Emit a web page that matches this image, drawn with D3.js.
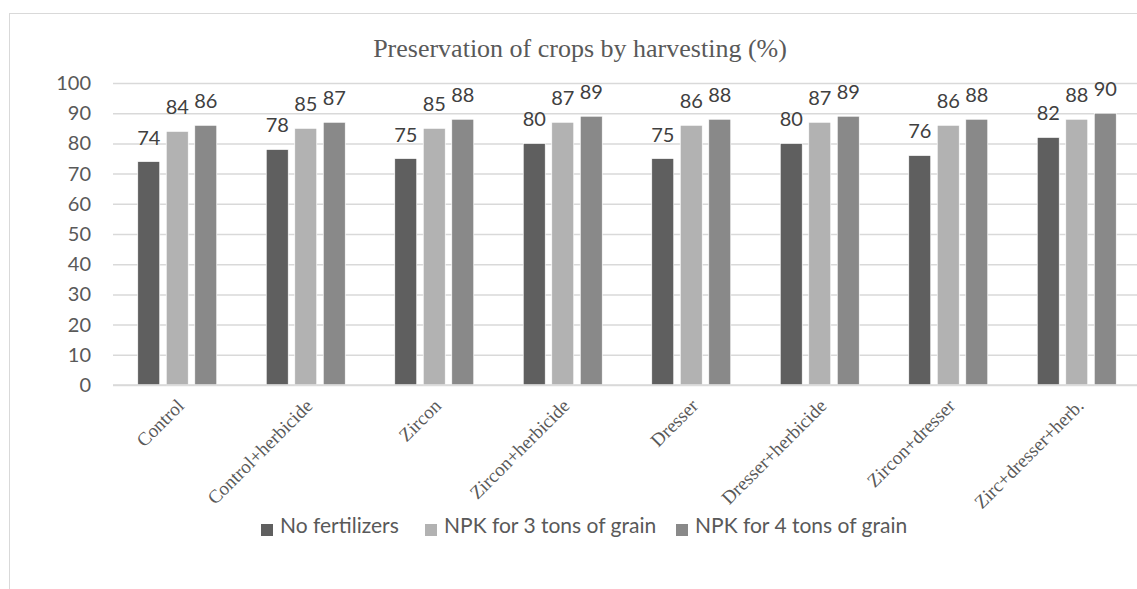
<!DOCTYPE html>
<html>
<head>
<meta charset="utf-8">
<script src="https://cdn.jsdelivr.net/npm/d3@7"></script>
<style>
  body { margin: 0; background: #fff; }
  svg { display: block; }
</style>
</head>
<body>
<figure id="bar" style="margin:0"></figure>
<script>
const categories = ['Control', 'Control+herbicide', 'Zircon', 'Zircon+herbicide',
  'Dresser', 'Dresser+herbicide', 'Zircon+dresser', 'Zirc+dresser+herb.'];
const seriesNames = ['No fertilizers', 'NPK for 3 tons of grain', 'NPK for 4 tons of grain'];
const noFertilizers = [74, 78, 75, 80, 75, 80, 76, 82];
const npk3 = [84, 85, 85, 87, 86, 87, 86, 88];
const npk4 = [86, 87, 88, 89, 88, 89, 88, 90];
const yTicks = [0, 10, 20, 30, 40, 50, 60, 70, 80, 90, 100];
const colors = ['#5f5f5f', '#b2b2b2', '#898989'];

const width = 1137, height = 589;
const plotLeft = 113, plotRight = 1141, plotTop = 83, plotBottom = 385;
const sans = 'Lato, sans-serif';
const serif = '"Liberation Serif", serif';

const svg = d3.select('figure#bar')
  .append('svg')
  .attr('width', width)
  .attr('height', height);

// chart frame
svg.append('rect')
  .attr('x', 9.5).attr('y', 13.5)
  .attr('width', 1200).attr('height', 700)
  .attr('fill', 'none')
  .attr('stroke', '#d9d9d9')
  .attr('stroke-width', 1);

svg.append('text')
  .attr('x', 580).attr('y', 57)
  .attr('text-anchor', 'middle')
  .style('font-family', serif)
  .style('font-size', '26px')
  .attr('fill', '#595959')
  .text('Preservation of crops by harvesting (%)');

const y = d3.scaleLinear().domain([0, 100]).range([plotBottom, plotTop]);

const x0 = d3.scaleBand()
  .domain(categories)
  .range([plotLeft, plotRight])
  .paddingInner(0.385)
  .paddingOuter(0.1925);

const x1 = d3.scaleBand()
  .domain(seriesNames)
  .range([0, x0.bandwidth()])
  .paddingInner(0.228);

// gridlines + y labels
const yAxis = svg.append('g')
  .attr('transform', 'translate(' + plotLeft + ',0)')
  .call(d3.axisLeft(y).tickValues(yTicks).tickSize(-(plotRight - plotLeft)).tickFormat(d3.format('d')));
yAxis.select('.domain').remove();
yAxis.selectAll('.tick line').attr('stroke', '#d9d9d9').attr('stroke-width', 1.5);
yAxis.selectAll('.tick text')
  .attr('x', -22)
  .attr('fill', '#595959')
  .style('font-family', sans)
  .style('font-size', '20px');

const rows = categories.map((c, i) => ({
  cat: c,
  vals: [noFertilizers[i], npk3[i], npk4[i]]
}));

const groups = svg.selectAll('g.grp')
  .data(rows)
  .enter()
  .append('g')
  .attr('class', 'grp')
  .attr('transform', d => 'translate(' + x0(d.cat) + ',0)');

groups.selectAll('rect')
  .data(d => d.vals.map((v, j) => ({ s: seriesNames[j], v: v, j: j })))
  .enter()
  .append('rect')
  .attr('x', d => x1(d.s))
  .attr('y', d => y(d.v))
  .attr('width', x1.bandwidth())
  .attr('height', d => y(0) - y(d.v))
  .attr('fill', d => colors[d.j])
  .attr('stroke', '#ffffff')
  .attr('stroke-width', 0.7);

groups.selectAll('text.val')
  .data(d => d.vals.map((v, j) => ({ s: seriesNames[j], v: v })))
  .enter()
  .append('text')
  .attr('class', 'val')
  .attr('x', d => x1(d.s) + x1.bandwidth() / 2)
  .attr('y', d => y(d.v) - 17)
  .attr('text-anchor', 'middle')
  .attr('fill', '#404040')
  .style('font-family', sans)
  .style('font-size', '20px')
  .text(d => d.v);

// x axis line
svg.append('line')
  .attr('x1', plotLeft).attr('x2', plotRight)
  .attr('y1', y(0)).attr('y2', y(0))
  .attr('stroke', '#d9d9d9').attr('stroke-width', 1.5);

// category labels
svg.selectAll('text.cat')
  .data(categories)
  .enter()
  .append('text')
  .attr('class', 'cat')
  .attr('transform', d => 'translate(' + (x0(d) + x0.bandwidth() / 2 + 8) + ',' + (plotBottom + 22) + ') rotate(-45)')
  .attr('text-anchor', 'end')
  .attr('fill', '#595959')
  .style('font-family', serif)
  .style('font-size', '19px')
  .text(d => d);

// legend
const legendX = [261, 425, 676];
const legend = svg.selectAll('g.leg')
  .data(seriesNames)
  .enter()
  .append('g')
  .attr('class', 'leg')
  .attr('transform', (d, i) => 'translate(' + legendX[i] + ',533)');
legend.append('rect')
  .attr('x', 0).attr('y', -9)
  .attr('width', 12).attr('height', 12)
  .attr('fill', (d, i) => colors[i]);
legend.append('text')
  .attr('x', 19).attr('y', 0)
  .attr('fill', '#595959')
  .style('font-family', sans)
  .style('font-size', '21px')
  .text(d => d);
</script>
</body>
</html>
